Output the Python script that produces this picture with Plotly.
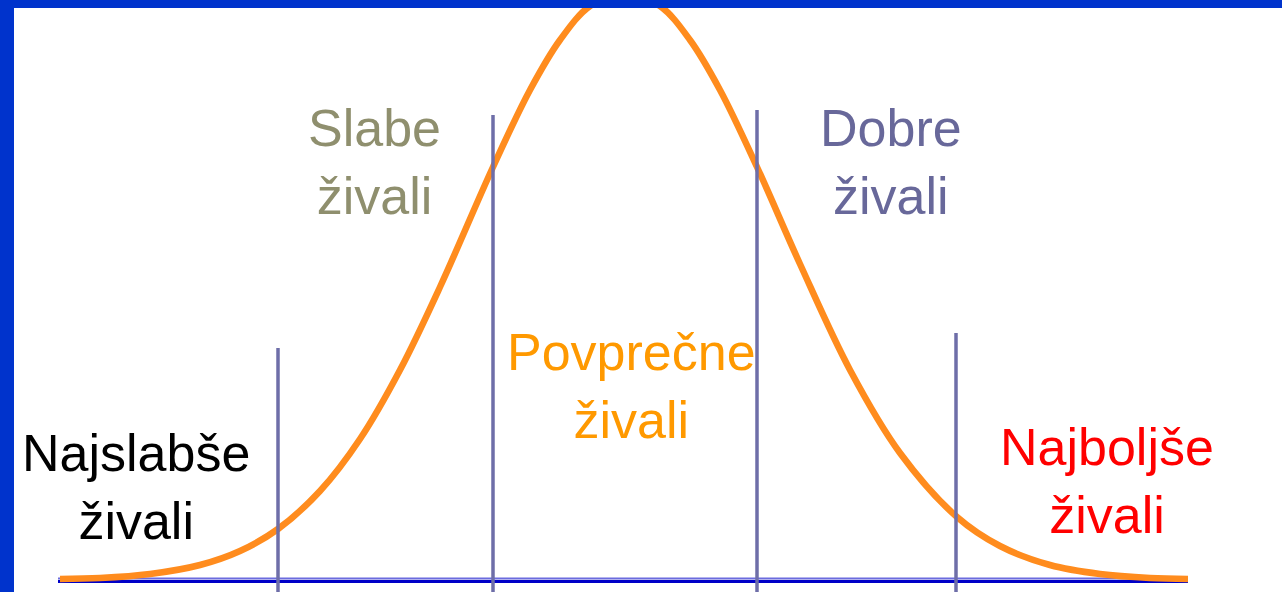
import plotly.graph_objects as go

# krivulja (normalna porazdelitev), odcitano s slike: x in visina nad osnovnico
curve_x = [60, 100, 150, 200, 240, 278, 320, 360, 400, 440, 493, 530, 560, 590,
           625, 660, 690, 720, 757, 800, 850, 900, 957, 1000, 1050, 1100, 1150, 1188]
curve_y = [1, 2, 6, 15, 29, 51, 89, 141, 210, 293, 413, 490, 540, 574,
           588, 574, 540, 490, 413, 316, 210, 127, 63, 34, 15, 6, 2, 1]

# mejne crte med skupinami
cut_x = [278, 493, 757, 956]
cut_top = [232, 465, 470, 247]
cut_bottom = -12

# osnovnica
base_x = [58, 1188]

# napisi
labels = ["Najslabše<br>živali", "Slabe<br>živali", "Povprečne<br>živali",
          "Dobre<br>živali", "Najboljše<br>živali"]
label_x = [136, 374, 631, 891, 1107]
label_y = [93, 418, 194, 418, 99]
label_colors = ["#000000", "#8f8f6e", "#ff9900", "#68689a", "#ff0000"]

fig = go.Figure()

## osnovnica (dve barvi)
fig.add_trace(go.Scatter(x=base_x, y=[1.5, 1.5], mode="lines",
                         line=dict(color="#6b6bde", width=2), hoverinfo="skip"))
fig.add_trace(go.Scatter(x=base_x, y=[-1.5, -1.5], mode="lines",
                         line=dict(color="#0000c8", width=3), hoverinfo="skip"))

## krivulja
fig.add_trace(go.Scatter(x=curve_x, y=curve_y, mode="lines",
                         line=dict(color="#ff8c1e", width=6.5, shape="spline"),
                         hoverinfo="skip"))

## navpicne crte
for cx, ct in zip(cut_x, cut_top):
    fig.add_trace(go.Scatter(x=[cx, cx], y=[cut_bottom, ct], mode="lines",
                             line=dict(color="#6e6ea8", width=3.5), hoverinfo="skip"))

for txt, lx, ly, col in zip(labels, label_x, label_y, label_colors):
    fig.add_annotation(x=lx, y=ly, xref="x", yref="y", text=txt, showarrow=False,
                       xanchor="center", yanchor="middle",
                       font=dict(family="Liberation Sans", size=52, color=col))

## modri okvir (levo in zgoraj)
fig.add_shape(type="rect", xref="paper", yref="paper", x0=0, x1=14 / 1282, y0=0, y1=1,
              fillcolor="#0033cc", line=dict(width=0), layer="above")
fig.add_shape(type="rect", xref="paper", yref="paper", x0=0, x1=1, y0=1 - 8 / 592, y1=1,
              fillcolor="#0033cc", line=dict(width=0), layer="above")

fig.update_layout(width=1282, height=592, margin=dict(l=0, r=0, t=0, b=0),
                  paper_bgcolor="white", plot_bgcolor="white", showlegend=False,
                  xaxis=dict(range=[0, 1282], visible=False, fixedrange=True),
                  yaxis=dict(range=[-12, 580], visible=False, fixedrange=True))

fig.write_html("out.html", config={"displayModeBar": False},
               post_script="document.body.style.margin='0';document.body.style.overflow='hidden';")
